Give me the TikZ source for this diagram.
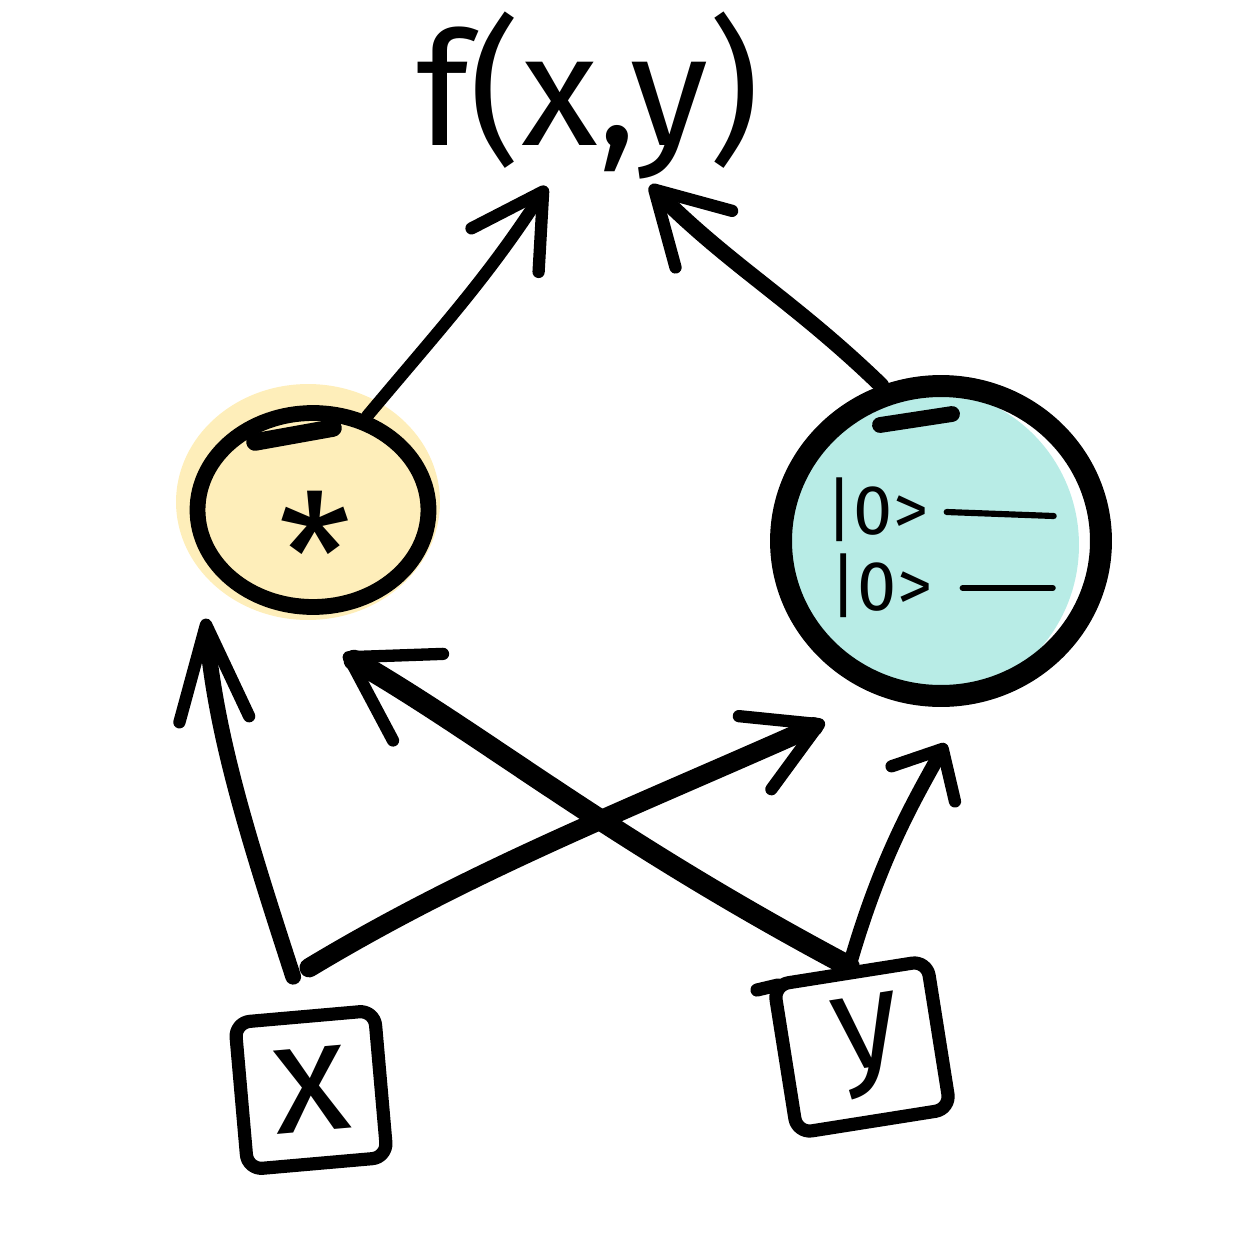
\documentclass[tikz,border=0pt]{standalone}
\usepackage{fontspec}
\setmainfont{Fira Sans}
\usetikzlibrary{arrows.meta}
\usetikzlibrary{shapes.geometric}
\definecolor{prodfill}{RGB}{254,238,186}
\definecolor{qfill}{RGB}{184,236,230}
\tikzset{x=0.02cm, y=-0.02cm, % One unit is one pixel of the sketch, y runs downwards
      hand/.style={line cap=round, line join=round},
      prodnode/.style={ % The product node
      ellipse, draw, line width=9pt, inner sep=0pt,
      minimum width=4.62cm, minimum height=3.88cm},
      qnode/.style={ % The quantum state node
      ellipse, draw, line width=12.5pt, inner sep=0pt,
      minimum width=6.4cm, minimum height=6.2cm},
      varbox/.style={ % Input boxes
      rectangle, draw, hand, line width=7.5pt, rounded corners=0.3cm,
      inner sep=0pt, font=\fontsize{90}{90}\selectfont},
      ket/.style={inner sep=0pt, font=\fontsize{40}{40}\selectfont},
      wire/.style={hand, line width=3.5pt},
      every edge/.style={ % Sets the properties for each arrow
            draw, hand,
      line width=9pt,
      -{Straight Barb[length=1.4cm, width=1.6cm, line width=7pt, round]}}}

\begin{document}
\begin{tikzpicture}
      \useasboundingbox (0,0) rectangle (1232,1244);
      % colour patches, a bit off the outlines
      \fill[prodfill] (308,502) ellipse [x radius=2.64cm, y radius=2.36cm];
      \fill[qfill] (927,545) ellipse [x radius=3.04cm, y radius=3.1cm];

      \node[inner sep=0pt, font=\fontsize{90}{90}\selectfont] (fxy) at (588,96) {f(x,y)};
      \node[prodnode] (prod) at (313,510) {};
      \node[inner sep=0pt, font=\fontsize{95}{95}\selectfont] (star) at (315,553) {*};
      \node[qnode] (qstate) at (941,541) {};
      \node[ket] (ket1) at (877,510) {|0>};
      \node[ket] (ket2) at (881,586) {|0>};
      \draw[wire] (ket1.east) ++(18,2) -- ++(107,4);
      \draw[wire] (ket2.east) ++(30,2) -- ++(90,0);
      \draw[hand, line width=10pt] (255,442) -- (333,428); % overlap of the stroke
      \draw[hand, line width=9pt] (880,425) -- (952,414);
      \node[varbox, rotate=5, minimum width=2.8cm, minimum height=2.95cm] (xbox) at (311,1090) {x};
      \node[varbox, rotate=9, minimum width=3.1cm, minimum height=3cm,
            font=\fontsize{78}{78}\selectfont] (ybox) at (862,1047) {\hspace{0.3cm}y};
      \draw[hand, line width=7.5pt] (757,990) -- (778,985);

      \draw (xbox.north) edge[out=108, in=-85, shorten <=0.7cm, shorten >=1.35cm,
            -{Straight Barb[length=1.9cm, width=1.4cm, line width=7pt, round]}] (prod.200);
      \draw (xbox.north west) edge[out=31, in=204, line width=11pt, shorten <=1.9cm, shorten >=1.24cm] (qstate.249);
      \draw (ybox.north) edge[out=152, in=-30, line width=12pt, shorten >=2.16cm,
            -{Straight Barb[length=1.6cm, width=2cm, line width=7pt, round]}] (prod.235);
      \draw (ybox.north) edge[out=74, in=-119, line width=8pt, shorten >=0.88cm,
            -{Straight Barb[length=0.8cm, width=1.45cm, line width=7pt, round]}] (qstate.279);
      \draw (prod.60) edge[out=50, in=-123, line width=7pt, shorten >=0.15cm] (fxy.246);
      \draw (qstate.111) edge[out=136, in=-45, shorten >=0.15cm] (fxy.304);
\end{tikzpicture}
\end{document}
